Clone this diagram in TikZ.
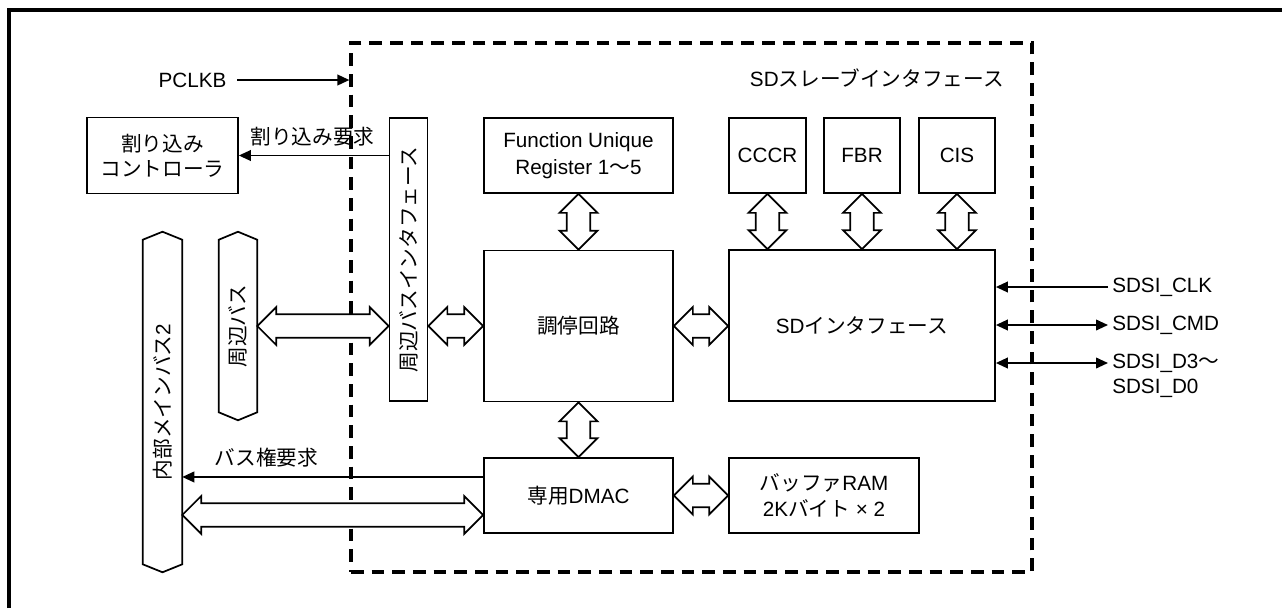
\documentclass[tikz,border=0pt]{standalone}
\usepackage{fontspec}
\setmainfont{Liberation Sans}
\newfontfamily\jp{Noto Sans CJK JP}
\usetikzlibrary{calc,arrows.meta}
\newcommand\fatarrow[2]{%
  \coordinate (faA) at (#1);
  \coordinate (faB) at (#2);
  \coordinate (faP) at ($(faA)!14.25pt!(faB)$);
  \coordinate (faQ) at ($(faB)!14.25pt!(faA)$);
  \draw[fatline] (faA) -- ($(faP)!14.25pt!90:(faB)$) -- ($(faP)!8.8pt!90:(faB)$)
    -- ($(faQ)!8.8pt!90:(faB)$) -- ($(faQ)!14.25pt!90:(faB)$) -- (faB)
    -- ($(faQ)!14.25pt!-90:(faB)$) -- ($(faQ)!8.8pt!-90:(faB)$)
    -- ($(faP)!8.8pt!-90:(faB)$) -- ($(faP)!14.25pt!-90:(faB)$) -- cycle;
}
\begin{document}
\begin{tikzpicture}[x=0.75pt,y=-0.75pt,
  every node/.style={font=\fontsize{15.5pt}{19pt}\selectfont, inner sep=0pt},
  blk/.style 2 args={draw, line width=1.3pt, minimum width=#1*0.75pt, minimum height=#2*0.75pt, align=center},
  sig/.style={line width=1.3pt, -{Triangle[length=9pt,width=8pt]}},
  bisig/.style={line width=1.3pt, {Triangle[length=9pt,width=8pt]}-{Triangle[length=9pt,width=8pt]}},
  fatline/.style={draw, fill=white, line width=1.3pt, line join=miter},
  busline/.style={draw, line width=1.3pt, line join=miter},
  dashedbox/.style={draw, line width=2.4pt, dash pattern=on 9.5pt off 6pt}
]
\useasboundingbox (0,0) rectangle (1282,608);
% outer frame (cropped)
\draw[line width=2.6pt] (9,608) -- (9,10) -- (1282,10);

% SD slave interface (dashed)
\node[dashedbox, minimum width=681*0.75pt, minimum height=529*0.75pt] (sdsi) at (691.5,307.5) {};
\node[anchor=east] (title) at (1004,78) {SD{\jp スレーブインタフェース}};

% blocks
\node[blk={151}{76}] (intc) at (162.5,155.5) {{\jp 割り込み}\\{\jp コントローラ}};
\node[blk={189}{75}] (fur) at (578.5,155.5) {Function Unique\\[1pt]Register 1{\jp 〜}5};
\node[blk={77}{75}] (cccr) at (767.5,155.5) {CCCR};
\node[blk={76}{75}] (fbr) at (862,155.5) {FBR};
\node[blk={76}{75}] (cis) at (957,155.5) {CIS};
\node[blk={189}{151}] (arb) at (578.5,326) {{\jp 調停回路}};
\node[blk={266}{151}] (sdif) at (862,325.5) {SD{\jp インタフェース}};
\node[blk={189}{75}] (dmac) at (578.5,495.5) {{\jp 専用}DMAC};
\node[blk={190}{75}] (ram) at (824,495.5) {{\jp バッファ}RAM\\2K{\jp バイト} × 2};
\node[blk={38}{283}] (bar) at (408.5,259.5) {\rotatebox{90}{\jp 周辺バスインタフェース}};

% buses
\node[minimum width=39*0.75pt, minimum height=340*0.75pt] (mbus) at (162.5,402) {\rotatebox{90}{{\jp 内部メインバス}2}};
\draw[busline] (mbus.north) -- ([yshift=-6pt]mbus.north east) -- ([yshift=6pt]mbus.south east)
  -- (mbus.south) -- ([yshift=6pt]mbus.south west) -- ([yshift=-6pt]mbus.north west) -- cycle;
\node[minimum width=38*0.75pt, minimum height=188*0.75pt] (pbus) at (238,326) {\rotatebox{90}{\jp 周辺バス}};
\draw[busline] (pbus.north) -- ([yshift=-6pt]pbus.north east) -- ([yshift=6pt]pbus.south east)
  -- (pbus.south) -- ([yshift=6pt]pbus.south west) -- ([yshift=-6pt]pbus.north west) -- cycle;

% labels and thin signals
\node (pclkb) at (192.5,80) {PCLKB};
\draw[sig] ([xshift=8pt]pclkb.east) -- (sdsi.west |- pclkb.east);

\node (irq) at (312.5,137) {{\jp 割り込み要求}};
\draw[sig] (bar.west |- intc.east) -- (intc.east);

\node (breqlbl) at (266.5,458) {{\jp バス権要求}};
\coordinate (breq) at ([yshift=13.9pt]dmac.west);
\draw[sig] (breq) -- (mbus.east |- breq);

\node[anchor=west] (clk) at (1112,287) {SDSI\_CLK};
\node[anchor=west] (cmd) at (1112,325) {SDSI\_CMD};
\node[anchor=west] (d3) at (1112,363) {SDSI\_D3{\jp 〜}};
\node[anchor=west] (d0) at (1112,388) {SDSI\_D0};
\draw[sig] ([xshift=-3pt]clk.west) -- (sdif.east |- clk.west);
\draw[bisig] ([xshift=-3pt]cmd.west) -- (sdif.east |- cmd.west);
\draw[bisig] ([xshift=-3pt]d3.west) -- (sdif.east |- d3.west);

% fat bus arrows
\fatarrow{pbus.east}{bar.west |- pbus.east}
\fatarrow{bar.east |- arb.west}{arb.west}
\fatarrow{arb.east}{sdif.west |- arb.east}
\fatarrow{fur.south}{arb.north}
\fatarrow{arb.south}{dmac.north}
\fatarrow{cccr.south}{sdif.north -| cccr.south}
\fatarrow{fbr.south}{sdif.north -| fbr.south}
\fatarrow{cis.south}{sdif.north -| cis.south}
\fatarrow{dmac.east}{ram.west |- dmac.east}
\coordinate (dbus) at ([yshift=-14.6pt]dmac.west);
\fatarrow{mbus.east |- dbus}{dbus}
\end{tikzpicture}
\end{document}
